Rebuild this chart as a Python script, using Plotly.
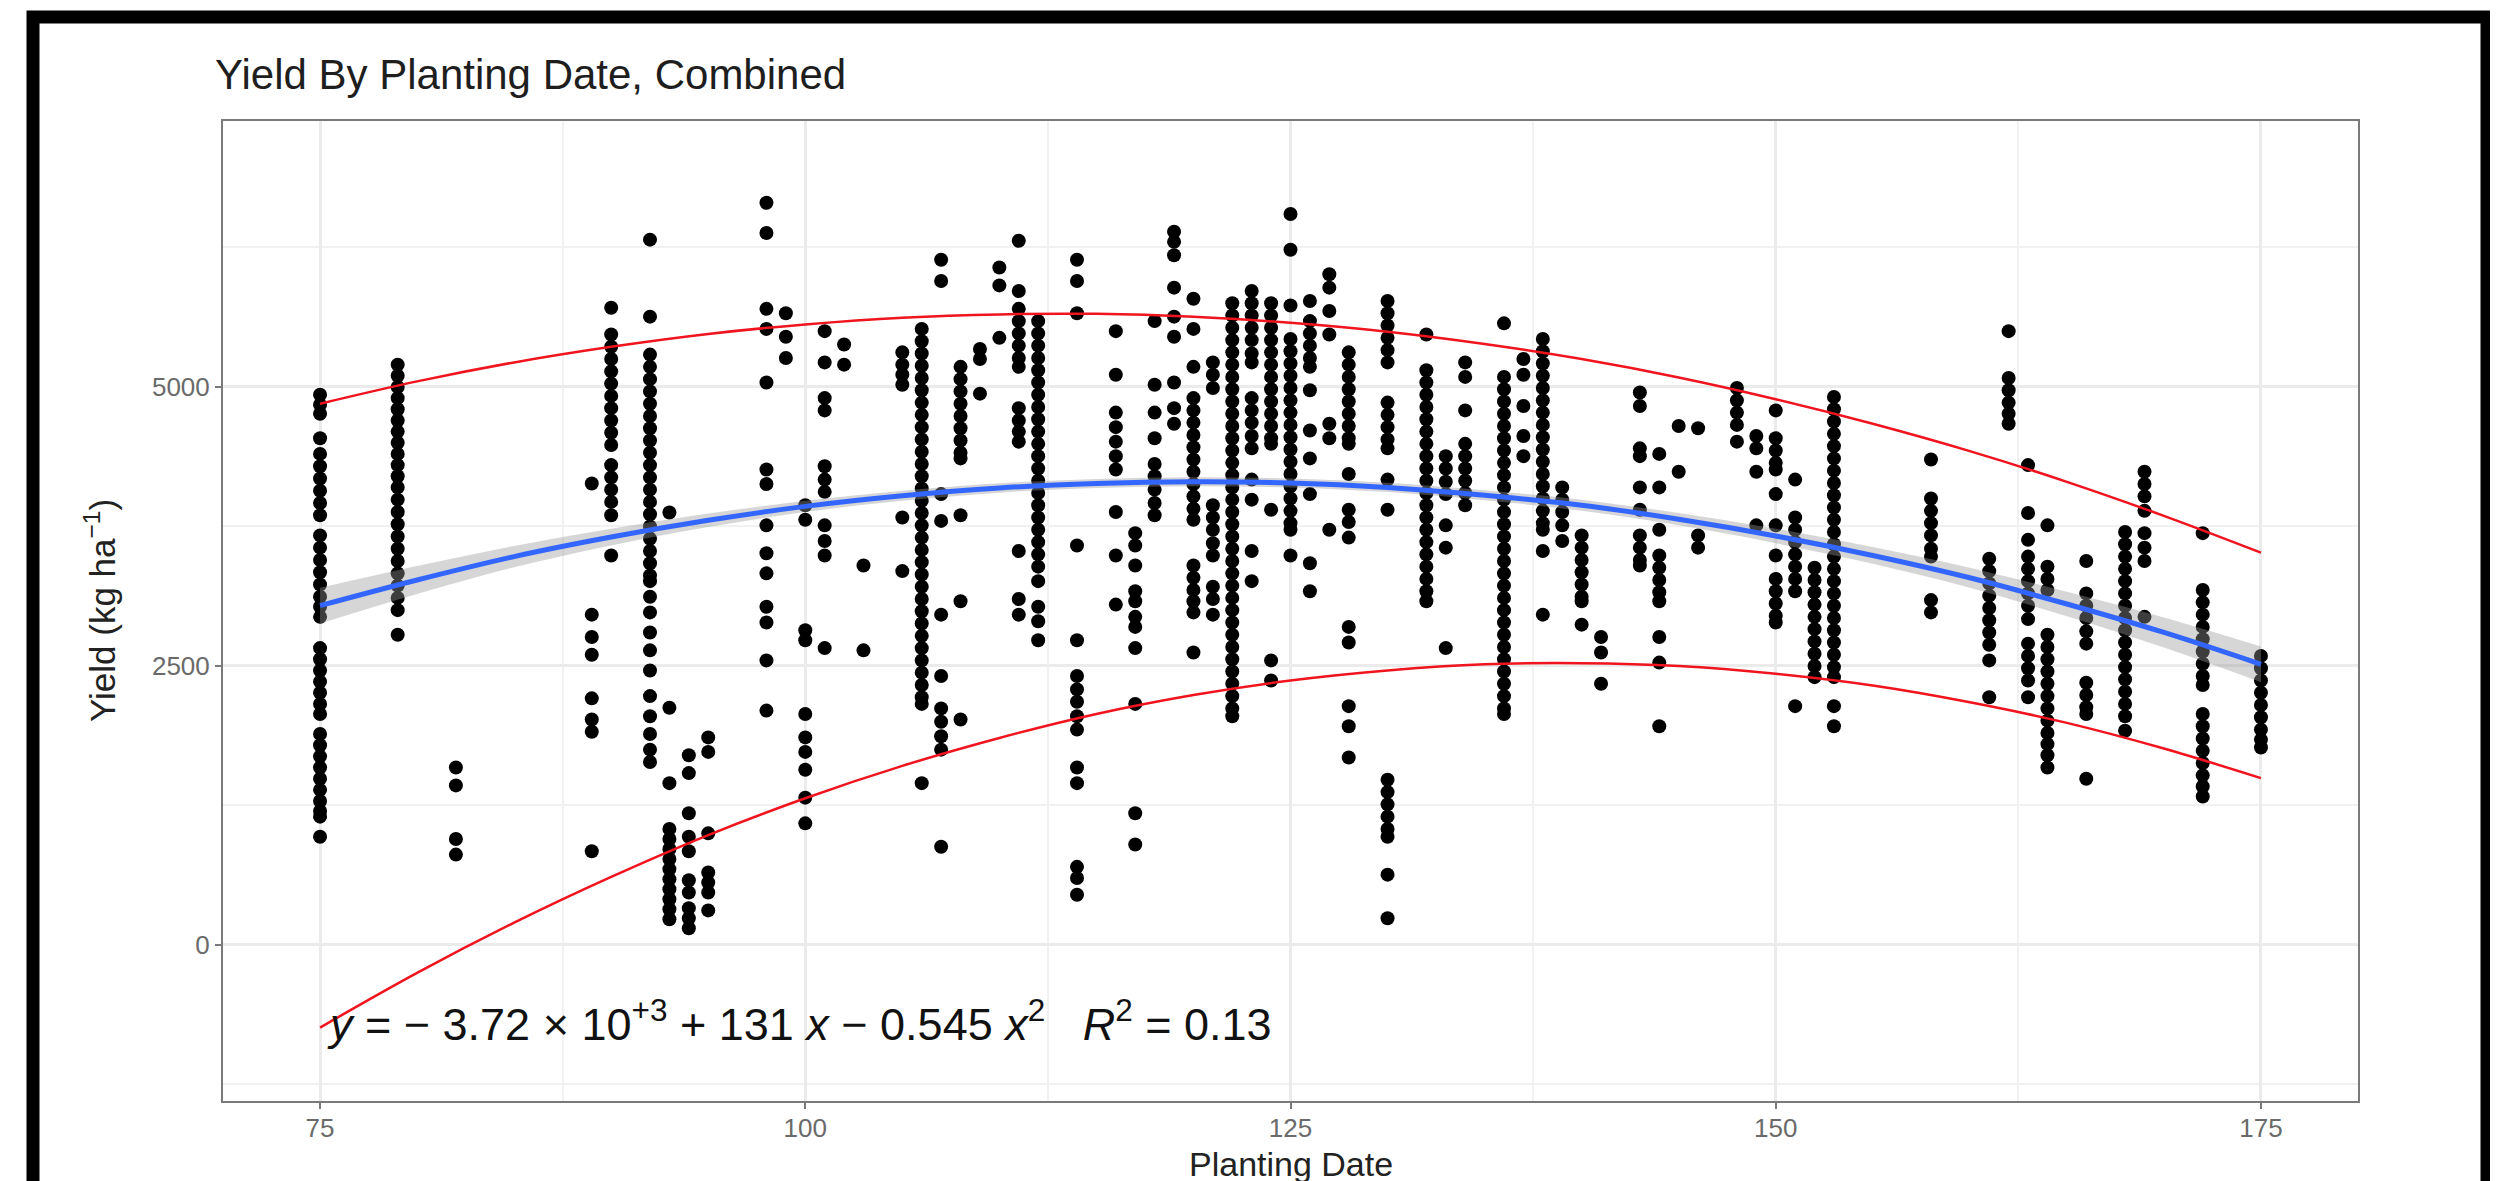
import plotly.graph_objects as go

# ---------------- data ----------------
planting_days = [75, 79, 82, 89, 90, 92, 93, 94, 95, 98, 99, 100, 101, 102, 103, 105, 106, 107, 108, 109,
                 110, 111, 112, 114, 116, 117, 118, 119, 120, 121, 122, 123, 124, 125, 126, 127, 128, 130,
                 132, 133, 134, 136, 137, 138, 139, 140, 141, 143, 144, 145, 146, 148, 149, 150, 151, 152,
                 153, 158, 161, 162, 163, 164, 166, 168, 169, 172, 175]

yield_columns = [
    [4930, 4840, 4760, 4540, 4400, 4290, 4180, 4070, 3960, 3850, 3670, 3560, 3450, 3340, 3230, 3120, 3030, 2940,
     2660, 2560, 2460, 2360, 2260, 2160, 2070, 1890, 1790, 1690, 1590, 1490, 1390, 1290, 1200, 1150, 970],  # 75
    [5200, 5100, 5000, 4900, 4800, 4700, 4600, 4500, 4400, 4300, 4200, 4100, 3990, 3880, 3770, 3660, 3550, 3440,
     3330, 3220, 3110, 3000, 2780],  # 79
    [1590, 1430, 950, 810],  # 82
    [4135, 2960, 2760, 2600, 2210, 2020, 1910, 840],  # 89
    [5710, 5470, 5360, 5250, 5140, 5030, 4920, 4810, 4700, 4590, 4480, 4300, 4190, 4080, 3970, 3850, 3490],  # 90
    [6320, 5630, 5290, 5180, 5070, 4960, 4850, 4740, 4630, 4520, 4410, 4300, 4190, 4080, 3970, 3860, 3750, 3640,
     3530, 3420, 3310, 3260, 3120, 2980, 2800, 2640, 2460, 2230, 2050, 1890, 1750, 1640],  # 92
    [3875, 2125, 1450, 1040, 950, 860, 770, 680, 590, 500, 410, 320, 230],  # 93
    [1700, 1540, 1180, 970, 840, 580, 470, 330, 240, 150],  # 94
    [1860, 1730, 1000, 650, 560, 470, 310],  # 95
    [6650, 6380, 5700, 5520, 5040, 4260, 4130, 3760, 3510, 3330, 3030, 2890, 2550, 2100],  # 98
    [5660, 5450, 5260],  # 99
    [3940, 3810, 2820, 2730, 2070, 1860, 1730, 1570, 1320, 1090],  # 100
    [5500, 5220, 4900, 4790, 4290, 4170, 4060, 3760, 3620, 3490, 2660],  # 101
    [5380, 5200],  # 102
    [3400, 2640],  # 103
    [5310, 5200, 5110, 5020, 3830, 3350],  # 105
    [5520, 5410, 5300, 5190, 5080, 4970, 4860, 4750, 4640, 4530, 4420, 4310, 4200, 4090, 3980, 3870, 3760, 3650,
     3540, 3430, 3320, 3210, 3100, 2990, 2880, 2770, 2660, 2550, 2440, 2330, 2220, 2160, 1450],  # 106
    [6140, 5950, 4040, 3800, 2960, 2410, 2120, 2000, 1870, 1750, 880],  # 107
    [5180, 5070, 4960, 4850, 4740, 4630, 4520, 4410, 4360, 3850, 3080, 2020],  # 108
    [5340, 5250, 4940],  # 109
    [6070, 5910, 5440],  # 110
    [6310, 5860, 5700, 5590, 5480, 5370, 5260, 5180, 4810, 4700, 4600, 4510, 3530, 3100, 2960],  # 111
    [5590, 5480, 5370, 5260, 5150, 5040, 4930, 4820, 4710, 4600, 4490, 4380, 4270, 4160, 4050, 3940, 3830, 3720,
     3610, 3500, 3390, 3260, 3030, 2900, 2730],  # 112
    [6140, 5950, 5660, 3580, 2730, 2410, 2290, 2180, 2050, 1930, 1590, 1450, 700, 600, 450],  # 114
    [5500, 5110, 4770, 4640, 4510, 4380, 4260, 3880, 3490, 3050],  # 116
    [3690, 3580, 3400, 3170, 3080, 2940, 2850, 2660, 2160, 1180, 900],  # 117
    [5590, 5020, 4770, 4540, 4310, 4200, 4080, 3960, 3850],  # 118
    [6390, 6300, 6180, 5890, 5630, 5450, 5040, 4810, 4670],  # 119
    [5790, 5520, 5180, 4900, 4790, 4680, 4570, 4460, 4350, 4240, 4130, 4020, 3910, 3810, 3400, 3290, 3180, 3080,
     2980, 2620],  # 120
    [5220, 5110, 4990, 3940, 3830, 3720, 3600, 3490, 3210, 3100, 2960],  # 121
    [5750, 5640, 5530, 5420, 5310, 5200, 5090, 4980, 4870, 4760, 4650, 4540, 4430, 4320, 4210, 4100, 3990, 3880,
     3770, 3660, 3550, 3440, 3330, 3220, 3110, 3000, 2890, 2780, 2670, 2560, 2450, 2340, 2230, 2120, 2050],  # 122
    [5860, 5750, 5640, 5530, 5420, 5300, 5220, 4900, 4790, 4680, 4560, 4450, 4170, 3990, 3530, 3260],  # 123
    [5750, 5640, 5530, 5420, 5310, 5200, 5090, 4980, 4870, 4760, 4650, 4540, 4490, 3900, 2550, 2370],  # 124
    [6550, 6230, 5730, 5430, 5320, 5210, 5100, 4990, 4880, 4770, 4660, 4550, 4440, 4330, 4220, 4110, 4000, 3890,
     3780, 3720, 3490],  # 125
    [5770, 5590, 5480, 5370, 5260, 5180, 4970, 4610, 4360, 4040, 3420, 3170],  # 126
    [6010, 5890, 5680, 5470, 4670, 4540, 3720],  # 127
    [5310, 5200, 5090, 4980, 4870, 4760, 4650, 4540, 4490, 4220, 3900, 3790, 3650, 2850, 2710, 2140, 1960, 1680],  # 128
    [5770, 5660, 5550, 5440, 5330, 5220, 4860, 4750, 4640, 4530, 4450, 4170, 3900, 1480, 1370, 1260, 1150, 1040,
     970, 630, 240],  # 130
    [5470, 5150, 5040, 4930, 4820, 4710, 4600, 4490, 4380, 4270, 4160, 4050, 3940, 3830, 3720, 3610, 3500, 3390,
     3280, 3170, 3080],  # 132
    [4380, 4270, 4150, 4040, 3760, 3560, 2660],  # 133
    [5220, 5090, 4790, 4490, 4380, 4270, 4160, 4050, 3940],  # 134
    [5570, 5090, 4980, 4870, 4760, 4650, 4540, 4430, 4320, 4210, 4100, 3990, 3880, 3770, 3660, 3550, 3440, 3330,
     3220, 3110, 3000, 2890, 2780, 2670, 2560, 2450, 2340, 2230, 2120, 2070],  # 136
    [5250, 5110, 4830, 4560, 4380],  # 137
    [5430, 5320, 5210, 5100, 4990, 4880, 4770, 4660, 4550, 4440, 4330, 4220, 4110, 4000, 3890, 3780, 3720, 3530,
     2960],  # 138
    [4100, 3990, 3880, 3760, 3620],  # 139
    [3670, 3560, 3450, 3340, 3230, 3120, 3080, 2870],  # 140
    [2760, 2620, 2340],  # 141
    [4950, 4830, 4450, 4380, 4100, 3900, 3670, 3560, 3450, 3400],  # 143
    [4400, 4100, 3720, 3490, 3380, 3270, 3160, 3080, 2760, 2530, 1960],  # 144
    [4650, 4240],  # 145
    [4630, 3670, 3560],  # 146
    [4990, 4880, 4770, 4660, 4510],  # 148
    [4560, 4450, 4240, 3760],  # 149
    [4790, 4540, 4430, 4320, 4260, 4040, 3760, 3490, 3280, 3170, 3060, 2950, 2890],  # 150
    [4170, 3830, 3720, 3610, 3500, 3390, 3280, 3170, 2140],  # 151
    [3380, 3270, 3160, 3050, 2940, 2830, 2720, 2610, 2500, 2400],  # 152
    [4910, 4800, 4690, 4580, 4470, 4360, 4250, 4140, 4030, 3920, 3810, 3700, 3590, 3480, 3370, 3260, 3150, 3040,
     2930, 2820, 2710, 2600, 2490, 2400, 2140, 1960],  # 153
    [4350, 4000, 3890, 3780, 3670, 3550, 3480, 3090, 2980],  # 158
    [3460, 3350, 3240, 3130, 3020, 2910, 2800, 2690, 2550, 2220],  # 161
    [5500, 5080, 4970, 4860, 4760, 4670],  # 162
    [4300, 3870, 3630, 3480, 3370, 3260, 3150, 3040, 2920, 2700, 2590, 2480, 2370, 2220],  # 163
    [3760, 3390, 3280, 3180, 2780, 2670, 2560, 2450, 2340, 2230, 2120, 2010, 1900, 1800, 1700, 1590],  # 164
    [3440, 3150, 3040, 2930, 2810, 2700, 2350, 2240, 2130, 2070, 1490],  # 166
    [3700, 3590, 3480, 3370, 3260, 3150, 3040, 2930, 2820, 2710, 2600, 2490, 2380, 2270, 2160, 2050, 1920],  # 168
    [4240, 4130, 4020, 3890, 3690, 3560, 3440, 2940],  # 169
    [3690, 3180, 3070, 2960, 2850, 2740, 2630, 2520, 2410, 2330, 2070, 1960, 1850, 1740, 1630, 1520, 1420, 1330],  # 172
    [2590, 2480, 2370, 2260, 2150, 2040, 1930, 1840, 1770],  # 175
]

curve_days = [75, 80, 85, 90, 95, 100, 105, 110, 115, 120, 125, 130, 135, 140, 145, 150, 155, 160, 165, 170, 175]
fit_yield = [3040, 3270, 3480, 3655, 3805, 3930, 4025, 4095, 4135, 4150, 4140, 4100, 4030, 3940, 3815, 3665,
             3490, 3290, 3055, 2800, 2515]
fit_ci_upper = [3200, 3395, 3575, 3730, 3865, 3980, 4070, 4137, 4175, 4190, 4180, 4142, 4075, 3990, 3870, 3730,
                3565, 3380, 3165, 2935, 2675]
fit_ci_lower = [2880, 3145, 3385, 3580, 3745, 3880, 3980, 4053, 4095, 4110, 4100, 4058, 3985, 3890, 3760, 3600,
                3415, 3200, 2945, 2665, 2355]
upper_band = [4850, 5050, 5220, 5360, 5475, 5560, 5620, 5650, 5655, 5630, 5575, 5495, 5385, 5250, 5085, 4890,
              4670, 4425, 4150, 3845, 3515]
lower_band = [-740, -250, 200, 610, 985, 1315, 1605, 1855, 2070, 2240, 2370, 2460, 2515, 2525, 2500, 2430,
              2325, 2175, 1990, 1760, 1495]

x_ticks = [75, 100, 125, 150, 175]
y_ticks = [0, 2500, 5000]

title_text = "Yield By Planting Date, Combined"
x_title = "Planting Date"
y_title = "Yield (kg ha<sup>−1</sup>)"
eq_text = ("<i>y</i> = − 3.72 × 10<sup>+3</sup> + 131 <i>x</i> − 0.545 <i>x</i><sup>2</sup>"
           "\u00a0\u00a0\u00a0<i>R</i><sup>2</sup> = 0.13")

# ---------------- figure ----------------
FONT = "Liberation Sans, Arial, Helvetica, sans-serif"

pts_x, pts_y = [], []
for d, col in zip(planting_days, yield_columns):
    pts_x.extend([d] * len(col))
    pts_y.extend(col)

fig = go.Figure()
fig.add_trace(go.Scatter(x=pts_x, y=pts_y, mode="markers",
                         marker=dict(color="black", size=14, line=dict(width=0)),
                         hoverinfo="x+y", showlegend=False))
fig.add_trace(go.Scatter(x=curve_days, y=fit_ci_lower, mode="lines", line=dict(width=0, shape="spline"),
                         showlegend=False, hoverinfo="skip"))
fig.add_trace(go.Scatter(x=curve_days, y=fit_ci_upper, mode="lines", line=dict(width=0, shape="spline"),
                         fill="tonexty", fillcolor="rgba(153,153,153,0.4)", showlegend=False, hoverinfo="skip"))
fig.add_trace(go.Scatter(x=curve_days, y=fit_yield, mode="lines",
                         line=dict(color="#3366FF", width=5, shape="spline"), showlegend=False))
fig.add_trace(go.Scatter(x=curve_days, y=upper_band, mode="lines",
                         line=dict(color="#F0141E", width=2.5, shape="spline"), showlegend=False))
fig.add_trace(go.Scatter(x=curve_days, y=lower_band, mode="lines",
                         line=dict(color="#F0141E", width=2.5, shape="spline"), showlegend=False))

axis_common = dict(
    showline=True, mirror=True, linecolor="#7A7A7A", linewidth=2,
    ticks="outside", ticklen=6, tickwidth=2, tickcolor="#7A7A7A",
    showgrid=True, gridcolor="#EBEBEB", gridwidth=2.5, zeroline=False,
    tickfont=dict(family=FONT, size=26, color="#6A6A6A"),
)

fig.update_xaxes(range=[70, 180], tickvals=x_ticks, ticktext=[str(v) for v in x_ticks],
                 ticklabelstandoff=-3,
                 minor=dict(tickvals=[87.5, 112.5, 137.5, 162.5], showgrid=True, gridcolor="#F1F1F1",
                            gridwidth=1.5, ticks=""),
                 **axis_common)
fig.update_yaxes(range=[-1398, 7383], tickvals=y_ticks, ticktext=[str(v) for v in y_ticks],
                 minor=dict(tickvals=[-1250, 1250, 3750, 6250], showgrid=True, gridcolor="#F1F1F1",
                            gridwidth=1.5, ticks=""),
                 **axis_common)

fig.add_annotation(x=75.25, y=-680, xref="x", yref="y", text=eq_text, showarrow=False,
                   xanchor="left", yanchor="middle", font=dict(family=FONT, size=45, color="#111111"))
fig.add_annotation(x=0.5, y=(1093 - 1156) / 980, xref="paper", yref="paper", text=x_title, showarrow=False,
                   xanchor="center", yanchor="middle", font=dict(family=FONT, size=34, color="#222222"))
fig.add_annotation(x=(92 - 215) / 2135, y=0.5, xref="paper", yref="paper", text=y_title, showarrow=False,
                   textangle=-90, xanchor="center", yanchor="middle",
                   font=dict(family=FONT, size=35, color="#222222"))

# outer black frame of the screenshot
fig.add_shape(type="rect", xref="paper", yref="paper",
              x0=(25 - 215) / 2135, x1=(2479 - 215) / 2135,
              y0=(1093 - 1260) / 980, y1=(1093 - 9) / 980,
              line=dict(color="black", width=13), fillcolor="rgba(0,0,0,0)", layer="above")

fig.update_layout(
    width=2498, height=1181,
    margin=dict(l=215, r=148, t=113, b=88),
    paper_bgcolor="white", plot_bgcolor="white",
    title=dict(text=title_text, x=207 / 2498, xanchor="left", xref="container",
               y=1 - 66 / 1181, yanchor="middle", yref="container",
               font=dict(family=FONT, size=42, color="#1E1E1E")),
    showlegend=False,
)

fig.write_html("out.html")
